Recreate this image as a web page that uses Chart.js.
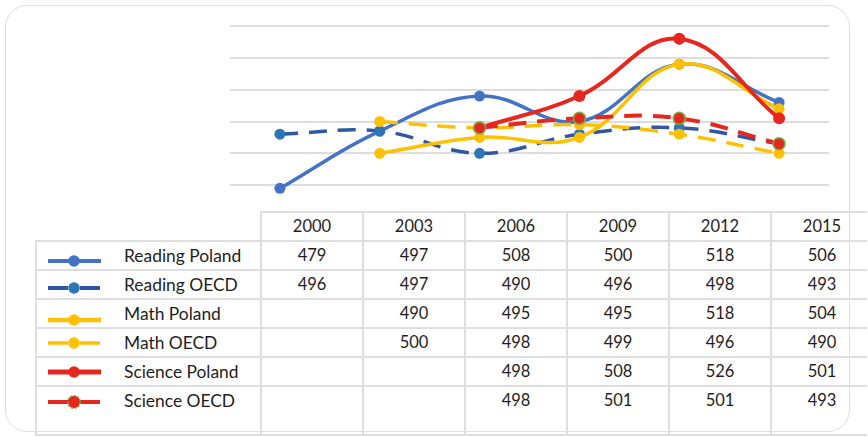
<!DOCTYPE html>
<html><head><meta charset="utf-8">
<script src="https://cdn.jsdelivr.net/npm/chart.js@4.4.1/dist/chart.umd.min.js"></script>
<style>
html,body{margin:0;padding:0;background:#fff;width:868px;height:437px;overflow:hidden;}
#card{position:absolute;left:5px;top:5px;width:843px;height:425px;border:1.5px solid #dedede;border-radius:22px;}
.hl,.vl{position:absolute;background:#dedede;}
.tx{position:absolute;font-family:Lato,"Noto Sans",sans-serif;font-size:16.5px;color:#1e1e1e;line-height:29px;height:29px;white-space:nowrap;}
.nm{font-size:17.4px;}
.sw{position:absolute;}
#c{position:absolute;left:0;top:0;}
</style></head>
<body>
<div id="card"></div>
<div id="tbl"></div>
<canvas id="c" width="868" height="437"></canvas>
<script>
// ---- data ----
const years = ['2000','2003','2006','2009','2012','2015'];
const seriesNames = ['Reading Poland','Reading OECD','Math Poland','Math OECD','Science Poland','Science OECD'];
const readingPoland = [479, 497, 508, 500, 518, 506];
const readingOECD   = [496, 497, 490, 496, 498, 493];
const mathPoland    = [null, 490, 495, 495, 518, 504];
const mathOECD      = [null, 500, 498, 499, 496, 490];
const sciencePoland = [null, null, 498, 508, 526, 501];
const scienceOECD   = [null, null, 498, 501, 501, 493];
const seriesValues = [readingPoland, readingOECD, mathPoland, mathOECD, sciencePoland, scienceOECD];
const yMin = 470, yMax = 530, yStep = 10;

// ---- styles ----
const styles = [
  {line:'#4472C4', point:'#4472C4', pb:'#4472C4', dash:[], w:3.5, r:5.5, sw:4},
  {line:'#3156A3', point:'#2E75B6', pb:'#2E75B6', dash:[18,11], w:3.5, r:5.5, sw:4},
  {line:'#FFC000', point:'#FFC000', pb:'#FFC000', dash:[], w:3.5, r:5.5, sw:4.5},
  {line:'#FFC000', point:'#FFC000', pb:'#FFC000', dash:[18,11], w:3.5, r:5.5, sw:3.5},
  {line:'#E6271E', point:'#E6271E', pb:'#E6271E', dash:[], w:4, r:6, sw:5},
  {line:'#E6271E', point:'#E6271E', pb:'#79AC46', dash:[18,11], w:4, r:6, sw:4},
];
const swDy = [4.5, 3, 5.5, 0, 0, 1];

// ---- table layout ----
const colX = [36, 261, 363, 465, 567, 669, 771, 873];
const rowY = [212, 241, 270, 299, 328, 357, 386, 435];
const tbl = document.getElementById('tbl');
let html = '';
const LW = 2;
html += `<div class="hl" style="left:${colX[1]-1}px;top:${rowY[0]-1}px;width:${868-colX[1]}px;height:${LW}px"></div>`;
for (let i = 1; i < rowY.length; i++) {
  html += `<div class="hl" style="left:${colX[0]-1}px;top:${rowY[i]-1}px;width:${868-colX[0]}px;height:${LW}px"></div>`;
}
html += `<div class="vl" style="left:${colX[0]-1}px;top:${rowY[1]-1}px;width:${LW}px;height:${437-rowY[1]}px"></div>`;
for (let j = 1; j < colX.length - 1; j++) {
  html += `<div class="vl" style="left:${colX[j]-1}px;top:${rowY[0]-1}px;width:${LW}px;height:${437-rowY[0]}px"></div>`;
}
years.forEach((y, j) => {
  html += `<div class="tx" style="left:${colX[j+1]}px;top:${rowY[0]}px;width:${colX[j+2]-colX[j+1]}px;text-align:center">${y}</div>`;
});
seriesNames.forEach((name, i) => {
  const top = rowY[i+1];
  const s = styles[i];
  const sy = top + 15 + swDy[i];
  let svg;
  if (s.dash.length) {
    svg = `<svg class="sw" style="left:46px;top:${sy-8}px" width="58" height="16"><line x1="2" y1="8" x2="22" y2="8" stroke="${s.line}" stroke-width="${s.sw}"/><line x1="34" y1="8" x2="54" y2="8" stroke="${s.line}" stroke-width="${s.sw}"/><circle cx="28" cy="8" r="${i===5?6.2:5.8}" fill="${s.point}" stroke="${s.pb}" stroke-width="${i===5?1.6:0}" stroke-dasharray="${i===5?'2 1.5':''}"/></svg>`;
  } else {
    svg = `<svg class="sw" style="left:46px;top:${sy-8}px" width="58" height="16"><line x1="2" y1="8" x2="55" y2="8" stroke="${s.line}" stroke-width="${s.sw}"/><circle cx="28" cy="8" r="5.8" fill="${s.point}"/></svg>`;
  }
  html += svg;
  html += `<div class="tx nm" style="left:124px;top:${top}px">${name}</div>`;
  seriesValues[i].forEach((v, j) => {
    if (v === null) return;
    html += `<div class="tx" style="left:${colX[j+1]}px;top:${top}px;width:${colX[j+2]-colX[j+1]}px;text-align:center">${v}</div>`;
  });
});
tbl.innerHTML = html;

// ---- chart ----
const n = seriesNames.length;
const datasets = seriesNames.map((name, i) => ({
  label: name,
  data: seriesValues[i],
  borderColor: styles[i].line,
  backgroundColor: styles[i].point,
  borderWidth: styles[i].w,
  borderDash: styles[i].dash,
  pointBackgroundColor: styles[i].point,
  pointBorderColor: styles[i].pb,
  pointBorderWidth: i === 5 ? 1.6 : 0,
  pointRadius: styles[i].r,
  tension: 0.4,
  fill: false,
  order: n - 1 - i
}));

new Chart(document.getElementById('c'), {
  type: 'line',
  data: { labels: years, datasets },
  options: {
    responsive: false,
    animation: false,
    devicePixelRatio: 1,
    layout: { padding: { left: 230, right: 39, top: 26, bottom: 220 } },
    plugins: { legend: { display: false }, tooltip: { enabled: false } },
    scales: {
      x: { type: 'category', offset: true, display: false },
      y: {
        min: yMin, max: yMax,
        ticks: { display: false, stepSize: yStep },
        grid: {
          drawTicks: false,
          lineWidth: 2,
          color: c => (c.tick && c.tick.value === yMin) ? 'rgba(0,0,0,0)' : '#dddddd'
        },
        border: { display: false },
        afterFit: s => { s.width = 0; }
      }
    }
  }
});
</script>
</body></html>
